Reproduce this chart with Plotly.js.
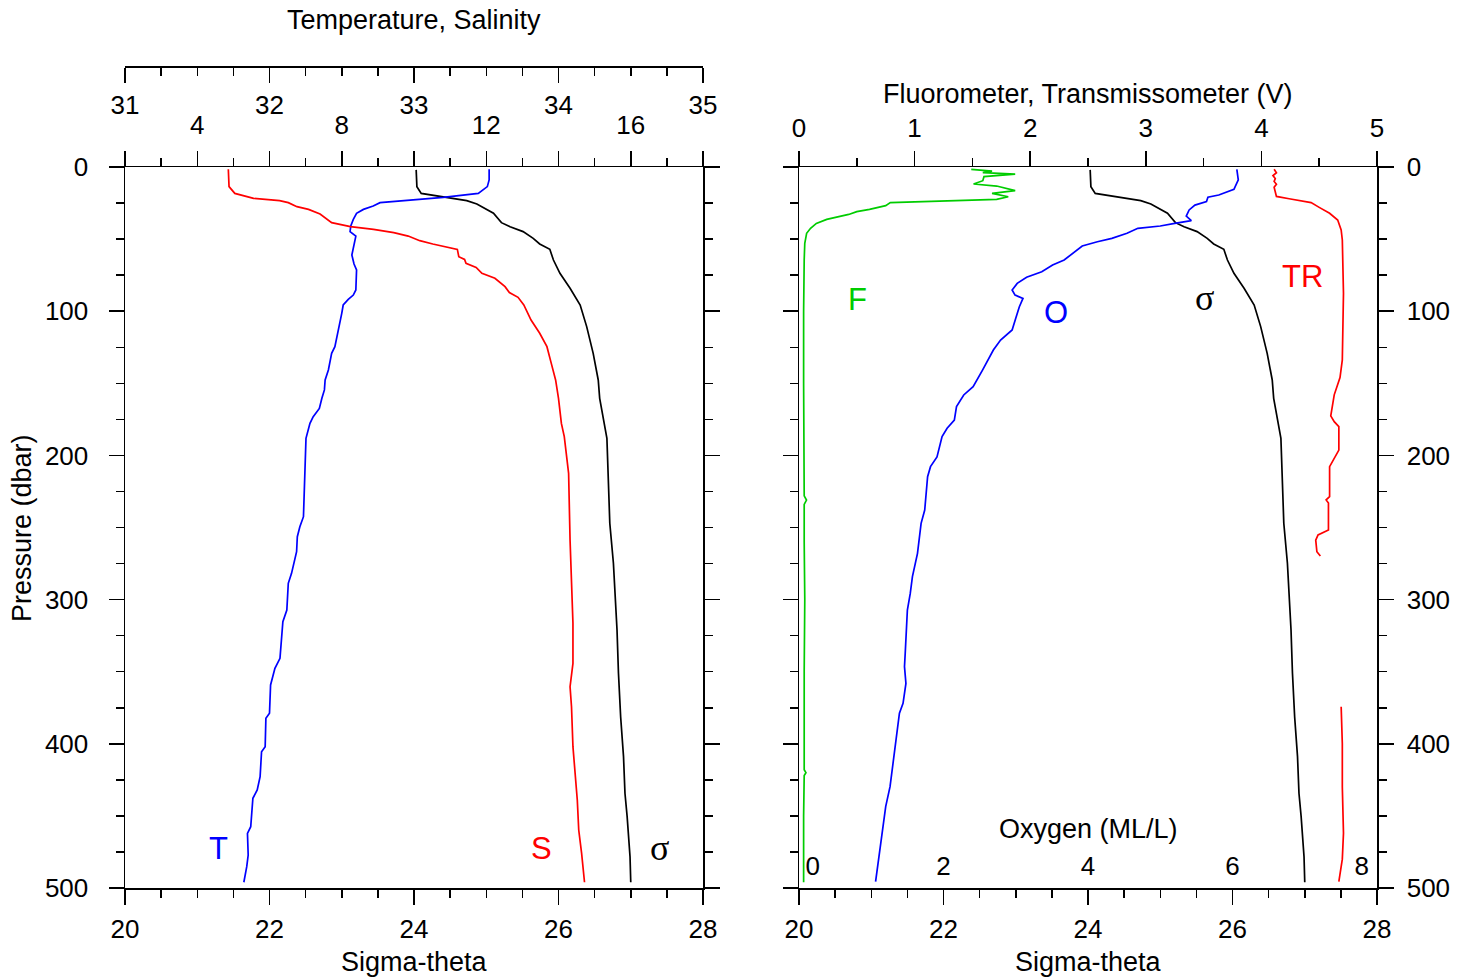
<!DOCTYPE html>
<html><head><meta charset="utf-8">
<script src="https://cdn.plot.ly/plotly-3.0.1.min.js"></script>
<style>html,body{margin:0;padding:0;background:#fff;} #chart{width:1468px;height:980px;}</style>
</head><body><div id="chart"></div>
<script>
// ---------- data ----------
const sigmaP = [2, 13.6, 18.3, 21, 23.3, 25.7, 28.7, 32.1, 38.6, 41.4, 44.8, 49.5, 53.4, 57.1, 64.5, 73.7, 84.1, 95.7, 110.7, 129.2, 147.7, 160.4, 188.2, 214.8, 247.1, 274.8, 293.3, 321.1, 351.1, 381.2, 408.9, 434.3, 450.5, 478.3, 496];
const sigmaTheta = [24.03, 24.04, 24.10, 24.41, 24.73, 24.87, 24.98, 25.10, 25.21, 25.33, 25.51, 25.65, 25.74, 25.88, 25.93, 26.02, 26.16, 26.30, 26.39, 26.48, 26.55, 26.57, 26.67, 26.69, 26.71, 26.76, 26.78, 26.81, 26.83, 26.86, 26.90, 26.92, 26.95, 26.99, 27.00];

const salP = [1.6, 13.6, 18.3, 21.7, 23.3, 24.7, 27.5, 29.4, 32.6, 37.2, 38.6, 41.4, 43.2, 45.5, 47.9, 51.1, 53.4, 57.1, 62.2, 64.1, 66.8, 69.6, 73.7, 77.2, 83, 87.1, 90.4, 95.7, 106.1, 115.3, 124.6, 136.2, 147.7, 160.4, 177.8, 187, 205.5, 212.4, 258.7, 293.3, 316.4, 344.2, 360.4, 374.3, 402, 439, 459.8, 476, 496];
const salinity = [31.715, 31.72, 31.76, 31.89, 32.07, 32.13, 32.19, 32.27, 32.35, 32.41, 32.43, 32.56, 32.72, 32.86, 32.96, 33.04, 33.13, 33.30, 33.31, 33.35, 33.36, 33.43, 33.47, 33.56, 33.63, 33.66, 33.72, 33.76, 33.81, 33.87, 33.92, 33.95, 33.98, 34.00, 34.02, 34.04, 34.06, 34.07, 34.08, 34.09, 34.10, 34.10, 34.08, 34.09, 34.10, 34.13, 34.14, 34.16, 34.18];

const tempP = [1.6, 9, 13.6, 18.3, 21, 23.3, 24.7, 27, 29.4, 32.1, 36.3, 40.9, 44.8, 47.9, 55.2, 61, 67.3, 71.4, 85.3, 88.8, 91.8, 95.7, 101.5, 113, 124.6, 129.2, 140.8, 147.7, 154.6, 160.4, 167.4, 173.2, 177.8, 188.2, 212.4, 242.5, 249.5, 256.4, 266.8, 281.8, 288.7, 307.2, 315.3, 330.3, 340.7, 347.6, 359.2, 378.8, 382.3, 402, 405.5, 422.8, 432, 437.8, 457.5, 462.1, 477.1, 485.2, 496];
const temperature = [12.08, 12.08, 12.03, 11.78, 10.81, 9.61, 9.06, 8.87, 8.60, 8.41, 8.32, 8.25, 8.23, 8.39, 8.32, 8.28, 8.34, 8.41, 8.39, 8.32, 8.18, 8.04, 8.00, 7.90, 7.81, 7.72, 7.63, 7.54, 7.52, 7.45, 7.38, 7.21, 7.12, 7.01, 6.98, 6.94, 6.84, 6.77, 6.75, 6.61, 6.52, 6.48, 6.37, 6.32, 6.29, 6.15, 6.03, 6.00, 5.90, 5.88, 5.78, 5.74, 5.66, 5.54, 5.48, 5.39, 5.41, 5.37, 5.29];

const oxyP = [1.6, 9, 15.5, 19.4, 21, 24, 26.4, 29.8, 34, 37.2, 39.1, 40.9, 42.5, 46, 49.5, 51.8, 54.8, 58.7, 64.5, 68, 72.6, 76.5, 80.7, 85.3, 88.8, 91.1, 96.9, 104.9, 113, 120, 126.9, 140.8, 152.3, 158.1, 166.2, 175.5, 181.2, 187, 201.1, 207.8, 214.8, 237.9, 247.1, 267.9, 284.1, 295.7, 307.2, 337.3, 346.5, 358.1, 371.9, 378.8, 404.3, 429.7, 443.6, 469, 495.6];
const oxygen = [6.06, 6.08, 6.02, 5.81, 5.66, 5.64, 5.48, 5.40, 5.36, 5.43, 5.20, 5.00, 4.69, 4.54, 4.33, 4.13, 3.92, 3.82, 3.67, 3.51, 3.36, 3.15, 3.02, 2.95, 2.99, 3.10, 3.05, 3.00, 2.95, 2.79, 2.69, 2.54, 2.41, 2.28, 2.18, 2.15, 2.05, 1.98, 1.91, 1.82, 1.78, 1.74, 1.69, 1.64, 1.57, 1.54, 1.50, 1.47, 1.46, 1.48, 1.44, 1.39, 1.33, 1.26, 1.20, 1.13, 1.06];

const fluoP = [1.6, 2.8, 3.9, 4.9, 6.7, 9.5, 11.8, 13.2, 16.4, 18.3, 20.6, 22.4, 24.7, 26.8, 29.4, 31, 32.9, 34.4, 36.3, 39.1, 42.5, 46, 52.9, 64.5, 100, 150, 200, 228, 231, 234, 260, 300, 350, 400, 418, 420, 422, 450, 496];
const fluorometer = [1.49, 1.67, 1.59, 1.87, 1.60, 1.59, 1.51, 1.71, 1.87, 1.67, 1.81, 1.71, 0.79, 0.75, 0.61, 0.50, 0.43, 0.34, 0.24, 0.15, 0.10, 0.066, 0.05, 0.045, 0.04, 0.04, 0.042, 0.045, 0.065, 0.045, 0.045, 0.05, 0.045, 0.045, 0.045, 0.06, 0.045, 0.04, 0.04];

const transP = [1.6, 4, 6, 8, 10, 12, 14, 17, 20.4, 22, 24.7, 28, 32.1, 36.8, 43.7, 50.6, 87.6, 133.8, 146, 158, 166.2, 172.6, 176.6, 180, 196.3, 203.2, 207.8, 228.6, 230.9, 233, 251.7, 255.2, 258.7, 266.8, 269.8, null, 374.3, 400, 430, 462, 480, 495.6];
const transmissometer = [4.11, 4.13, 4.10, 4.12, 4.11, 4.13, 4.11, 4.12, 4.13, 4.24, 4.43, 4.50, 4.59, 4.66, 4.69, 4.70, 4.71, 4.70, 4.68, 4.63, 4.61, 4.60, 4.63, 4.67, 4.67, 4.62, 4.59, 4.59, 4.56, 4.58, 4.58, 4.49, 4.47, 4.48, 4.51, null, 4.69, 4.70, 4.70, 4.71, 4.70, 4.67];

const tempTicks = [2, 4, 6, 8, 10, 12, 14, 16, 18];
const tempTickText = ['', '4', '', '8', '', '12', '', '16', ''];
const oxyTickText = ['0', '2', '4', '6', '8'];

// ---------- layout helpers ----------
const W = 1468, H = 980;
const px = x => x / W, py = y => 1 - y / H;
const L = [px(125), px(703)], R = [px(799), px(1377)], YD = [py(888), py(167)];
const FONT = 'Liberation Sans, Arial, Helvetica, sans-serif';
const SERIF = 'Liberation Serif, Times New Roman, serif';
const BLUE = '#0000ff', RED = '#ff0000', GREEN = '#00cc00', BLACK = '#000000';

const minor = (d) => ({dtick: d, ticks: 'outside', ticklen: 8, tickwidth: 1.5, tickcolor: '#000'});
const base = () => ({
  showgrid: false, zeroline: false, showline: true, linecolor: '#000', linewidth: 1.5,
  ticks: 'outside', tickcolor: '#000', tickwidth: 1.5, ticklen: 15,
  tickfont: {family: FONT, size: 26, color: '#000'}, fixedrange: true
});

const line = (c) => ({color: c, width: 1.7});
const traces = [
  {x: sigmaTheta, y: sigmaP, xaxis: 'x', yaxis: 'y', mode: 'lines', line: line(BLACK)},
  {x: salinity, y: salP, xaxis: 'x3', yaxis: 'y', mode: 'lines', line: line(RED)},
  {x: temperature, y: tempP, xaxis: 'x2', yaxis: 'y', mode: 'lines', line: line(BLUE)},
  {x: sigmaTheta, y: sigmaP, xaxis: 'x4', yaxis: 'y2', mode: 'lines', line: line(BLACK)},
  {x: oxygen, y: oxyP, xaxis: 'x6', yaxis: 'y2', mode: 'lines', line: line(BLUE)},
  {x: fluorometer, y: fluoP, xaxis: 'x5', yaxis: 'y2', mode: 'lines', line: line(GREEN)},
  {x: transmissometer, y: transP, xaxis: 'x5', yaxis: 'y2', mode: 'lines', line: line(RED), connectgaps: false}
];

const oxyTickVals = oxyTickText.map((t, i) => {
  const v = Number(t);
  if (i === 0) return v + 0.19;
  if (i === oxyTickText.length - 1) return v - 0.21;
  return v;
});

const ann = (text, x, y, opts = {}) => Object.assign({
  text, x: px(x), y: py(y), xref: 'paper', yref: 'paper', xanchor: 'center', yanchor: 'middle',
  showarrow: false, font: {family: FONT, size: 27, color: '#000'}
}, opts);

const layout = {
  width: W, height: H, margin: {l: 0, r: 0, t: 0, b: 0},
  paper_bgcolor: '#fff', plot_bgcolor: '#fff', showlegend: false,
  xaxis: Object.assign(base(), {domain: L, range: [20, 28], anchor: 'y', side: 'bottom', tick0: 20, dtick: 2, minor: minor(0.5), ticklabelstandoff: 2}),
  xaxis2: Object.assign(base(), {domain: L, range: [2, 18], overlaying: 'x', anchor: 'y', side: 'top', tickmode: 'array', tickvals: tempTicks, ticktext: tempTickText, minor: Object.assign(minor(1), {tick0: 0}), ticklabelstandoff: 6}),
  xaxis3: Object.assign(base(), {domain: L, range: [31, 35], overlaying: 'x', anchor: 'free', position: py(66), side: 'bottom', tick0: 31, dtick: 1, minor: minor(0.25), ticklabelstandoff: 0}),
  yaxis: Object.assign(base(), {domain: YD, range: [500, 0], anchor: 'x', side: 'left', tick0: 0, dtick: 100, minor: minor(25), mirror: 'ticks', ticklabelstandoff: 15}),
  xaxis4: Object.assign(base(), {domain: R, range: [20, 28], anchor: 'y2', side: 'bottom', tick0: 20, dtick: 2, minor: minor(0.5), ticklabelstandoff: 2}),
  xaxis5: Object.assign(base(), {domain: R, range: [0, 5], overlaying: 'x4', anchor: 'y2', side: 'top', tick0: 0, dtick: 1, minor: minor(0.5), ticklabelstandoff: 3}),
  xaxis6: Object.assign(base(), {domain: R, range: [0, 8], overlaying: 'x4', anchor: 'free', position: py(848), side: 'bottom', showline: false, ticks: '', tickmode: 'array', tickvals: oxyTickVals, ticktext: oxyTickText}),
  yaxis2: Object.assign(base(), {domain: YD, range: [500, 0], anchor: 'x4', side: 'right', tick0: 0, dtick: 100, minor: minor(25), mirror: 'ticks', ticklabelstandoff: 8}),
  annotations: [
    ann('Temperature, Salinity', 414, 20),
    ann('Pressure (dbar)', 22, 528, {textangle: -90}),
    ann('Sigma-theta', 414, 962),
    ann('Sigma-theta', 1088, 962),
    ann('Fluorometer, Transmissometer (V)', 1088, 94),
    ann('Oxygen (ML/L)', 1088, 829),
    ann('T', 218, 848, {font: {family: FONT, size: 31, color: BLUE}}),
    ann('S', 541, 848, {font: {family: FONT, size: 31, color: RED}}),
    ann('σ', 659, 848, {font: {family: SERIF, size: 36, color: BLACK}}),
    ann('F', 857, 299, {font: {family: FONT, size: 31, color: GREEN}}),
    ann('O', 1056, 313, {font: {family: FONT, size: 31, color: BLUE}}),
    ann('σ', 1204, 298, {font: {family: SERIF, size: 36, color: BLACK}}),
    ann('TR', 1302, 277, {font: {family: FONT, size: 31, color: RED}})
  ]
};

Plotly.newPlot('chart', traces, layout, {staticPlot: true, displayModeBar: false});
</script>
</body></html>
